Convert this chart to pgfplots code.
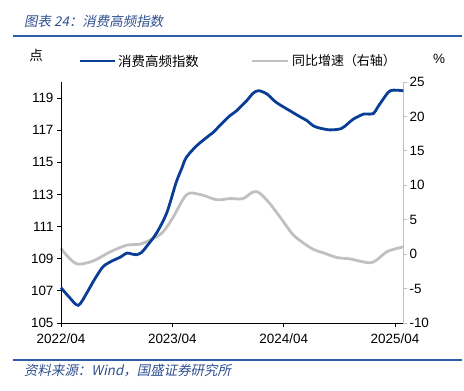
\documentclass[border=0pt]{standalone}
\usepackage{pgfplots}
\pgfplotsset{compat=1.18}
\usepackage{fontspec}
\setmainfont{Liberation Sans}
\newfontfamily\cjk{Noto Sans CJK SC}
\newfontfamily\cjkit[FakeSlant=0.2]{Noto Sans CJK SC}
\definecolor{idx}{RGB}{10,62,150}
\definecolor{yoy}{RGB}{192,192,192}
\definecolor{rulec}{RGB}{43,93,168}
\definecolor{ttl}{RGB}{47,79,143}

\pgfplotstableread{
m v
0 107.2
0.9 106.6
1.86 106.1
2.77 106.86
3.6 107.7
4.56 108.52
5.64 108.9
6.4 109.1
7.08 109.35
7.6 109.3
8.15 109.25
8.7 109.4
9.23 109.77
10.3 110.6
11.4 111.86
12.4 113.73
13.0 114.6
13.5 115.3
14.6 116.02
15.9 116.64
16.4 116.86
17.3 117.4
18.2 117.9
18.9 118.2
20.0 118.83
20.7 119.3
21.3 119.46
22.2 119.25
23.2 118.73
24.7 118.2
25.9 117.79
26.5 117.6
27.2 117.27
27.9 117.13
29.0 117.02
30.2 117.1
30.9 117.4
31.5 117.69
32.6 118.0
33.2 118.0
33.7 118.05
34.1 118.4
34.6 118.83
35.5 119.46
36.9 119.45
}\idxdata

\pgfplotstableread{
m v
0 0.83
0.9 -0.6
1.86 -1.45
3.5 -0.97
5.3 0.33
7.08 1.3
8.5 1.45
9.95 2.27
11.0 3.23
12.1 5.4
13.2 8.07
13.9 8.88
15.3 8.55
16.8 7.9
18.2 8.07
19.6 8.07
20.7 9.03
21.4 8.88
22.5 7.35
23.6 5.4
24.9 3.0
25.8 1.93
27.2 0.68
28.3 0.19
29.7 -0.48
31.1 -0.68
32.2 -1.01
33.3 -1.26
34.0 -0.87
35.1 0.33
36.2 0.83
36.9 1.06
}\yoydata

\begin{document}
\begin{tikzpicture}[x=1bp,y=1bp]
\path[use as bounding box] (0,0) rectangle (464,390);

% title and rules
\node[anchor=west, text=ttl, inner sep=0pt] at (24,369) {\cjkit\fontsize{13.5}{14}\selectfont 图表 24：消费高频指数};
\draw[rulec, line width=1.8bp] (13,354) -- (462,354);
\draw[rulec, line width=1.5bp] (13,30) -- (462,30);
\node[anchor=west, text=ttl, inner sep=0pt] at (24,19) {\cjkit\fontsize{13.5}{14}\selectfont 资料来源：Wind，国盛证券研究所};

% unit labels
\node[inner sep=0pt] at (36,335) {\cjk\fontsize{13.5}{14}\selectfont 点};
\node[inner sep=0pt] at (439,331) {\fontsize{13.5}{14}\selectfont \%};

% legend
\draw[idx, line width=2.8bp] (80,329) -- (115,329);
\node[anchor=west, inner sep=0pt] at (118,329) {\cjk\fontsize{13.5}{14}\selectfont 消费高频指数};
\draw[yoy, line width=2.8bp] (252,329) -- (288,329);
\node[anchor=west, inner sep=0pt] at (292,329) {\cjk\fontsize{13}{14}\selectfont 同比增速（右轴）};

% right axis (gray series)
\begin{axis}[
  at={(61bp,67bp)}, anchor=south west, scale only axis,
  width=342bp, height=241bp,
  xmin=0, xmax=36.86, ymin=-10, ymax=25,
  axis x line=none, axis y line*=right,
  ytick={-10,-5,...,25},
  tick align=outside, major tick length=4bp,
  y axis line style={yoy, line width=1bp},
  ytick style={yoy, line width=1bp},
  yticklabel style={font=\fontsize{13.5}{14}\selectfont, xshift=-1bp},
  /pgf/number format/assume math mode=true,
  clip=false,
]
\addplot[yoy, line width=2.8bp, smooth, tension=0.5] table[x=m, y=v] {\yoydata};
\end{axis}

% left axis (blue series)
\begin{axis}[
  at={(61bp,67bp)}, anchor=south west, scale only axis,
  width=342bp, height=241bp,
  xmin=0, xmax=36.86, ymin=105, ymax=120,
  axis x line*=bottom, axis y line*=left,
  ytick={105,107,...,119},
  xtick={0,12,24,36},
  xticklabels={2022/04,2023/04,2024/04,2025/04},
  tick align=outside, major tick length=4bp,
  axis line style={black, line width=1bp},
  tick style={black, line width=1bp},
  ticklabel style={font=\fontsize{13.5}{14}\selectfont},
  xticklabel style={yshift=-3bp},
  /pgf/number format/assume math mode=true,
  clip=false,
]
\addplot[idx, line width=2.8bp, smooth, tension=0.5] table[x=m, y=v] {\idxdata};
\end{axis}
\end{tikzpicture}
\end{document}
